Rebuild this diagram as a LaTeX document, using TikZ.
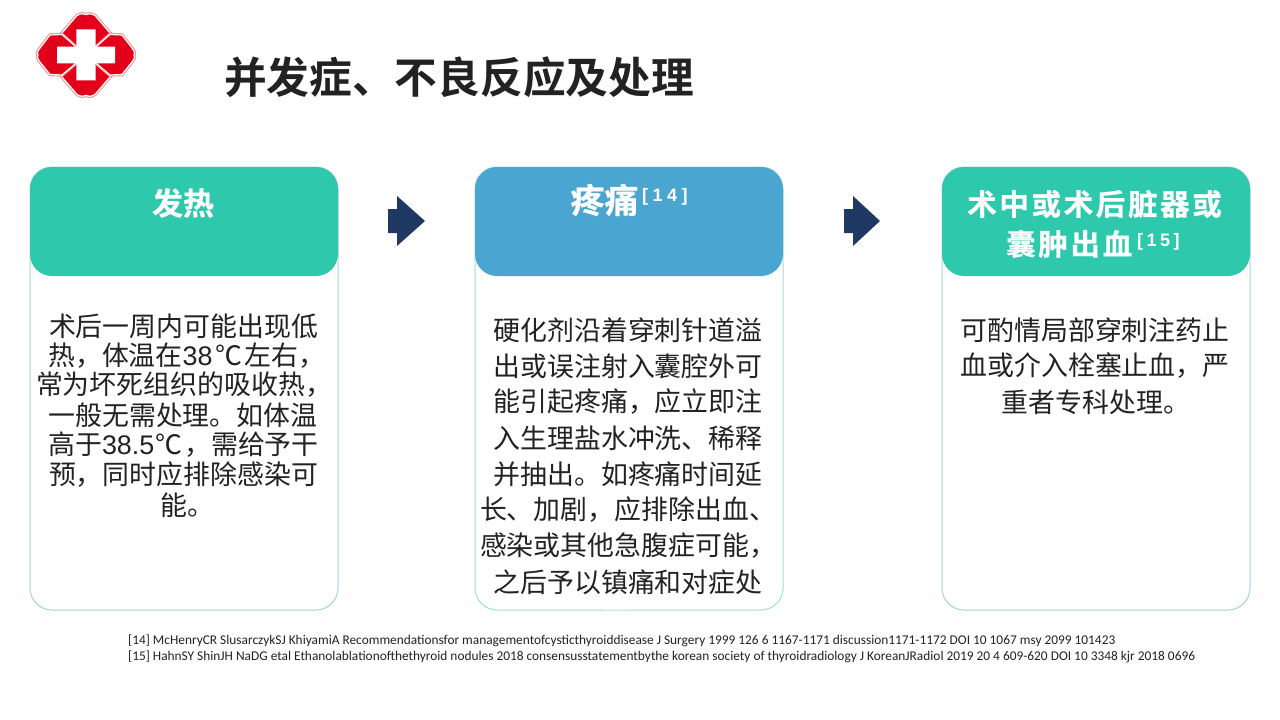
\documentclass[tikz,border=0pt]{standalone}
\usepackage{fontspec}
\setmainfont{Liberation Sans}
\newfontfamily\cjk{Noto Sans CJK SC}
\newfontfamily\cjkb[FakeBold=0.6]{Noto Sans CJK SC Bold}
\newfontfamily\cjkbs[FakeBold=0.6,LetterSpace=9]{Noto Sans CJK SC Bold}
\newfontfamily\latinr{Liberation Sans}
\newfontfamily\reffont{Carlito}
\definecolor{teal1}{HTML}{2EC8AC}
\definecolor{blue1}{HTML}{4AA5D0}
\definecolor{navy1}{HTML}{1F3864}
\definecolor{edge1}{HTML}{A3D5E3}
\definecolor{edge2}{HTML}{A0DFD8}
\definecolor{ink}{HTML}{222222}
\definecolor{red1}{HTML}{E2001A}
\definecolor{pink1}{HTML}{F29A9A}
\tikzset{
  x=1pt,y=-1pt,
  bodyline/.style={inner sep=0pt,text=ink,font=\cjk\fontsize{26.9}{30}\selectfont,anchor=center},
  headtext/.style={inner sep=0pt,text=white,anchor=center},
  reftext/.style={inner sep=0pt,text=ink,font=\reffont\fontsize{13.36}{15}\selectfont,anchor=west},
  cardbox/.style={draw=#1,line width=1pt,fill=white,rounded corners=22pt},
  arrowshape/.style={fill=navy1,draw=none},
  petal/.style={fill=red1,draw=white,line width=1.2pt,preaction={draw=pink1,line width=3.4pt},line join=round},
}
\newcommand{\dg}[1]{{\latinr #1}}
\newcommand{\supref}[3]{{\normalfont\bfseries\fontsize{18}{18}\selectfont [\hspace{#3}#1\hspace{#3}#2\hspace{#3}]}}
\begin{document}
\begin{tikzpicture}
\useasboundingbox (0,0) rectangle (1280,720);
\fill[white] (0,0) rectangle (1280,720);
% logo
\draw[petal] (62,33) -- (77,15.5) .. controls (81,13.5) and (84,13) .. (86,14.5) .. controls (88,13) and (91,13.5) .. (95,15.5) -- (110,33) -- (108,36) -- (96,47) -- (76,47) -- (64,36) -- cycle;
\draw[petal] (62,77) -- (77,94.5) .. controls (81,96.5) and (84,97) .. (86,95.5) .. controls (88,97) and (91,96.5) .. (95,94.5) -- (110,77) -- (108,74) -- (96,63) -- (76,63) -- (64,74) -- cycle;
\draw[petal] (62,34.5) -- (50,35) -- (40,48) .. controls (37,52) and (37,54) .. (38,55) .. controls (37,56) and (37,58) .. (40,62) -- (50,74.5) -- (62,75) -- (75,64) -- (75,46) -- cycle;
\draw[petal] (110,34.5) -- (122,35) -- (132,48) .. controls (135,52) and (135,54) .. (134,55) .. controls (135,56) and (135,58) .. (132,62) -- (122,74.5) -- (110,75) -- (97,64) -- (97,46) -- cycle;
\fill[white] (76.3,29.3) -- (95.7,29.3) -- (95.7,46.7) -- (115,46.7) -- (115,63.3) -- (95.7,63.3) -- (95.7,80.3) -- (76.3,80.3) -- (76.3,63.3) -- (57,63.3) -- (57,46.7) -- (76.3,46.7) -- cycle;
% title
\node[inner sep=0pt,text=ink,font=\fontspec{Noto Sans CJK SC Bold}\fontsize{42.7}{46}\selectfont] (title) at (459,77) {并发症、不良反应及处理};
% cards
\draw[cardbox=edge1] (30,167) rectangle (338,610);
\draw[cardbox=edge2] (475,167) rectangle (783,610);
\draw[cardbox=edge1] (942,167) rectangle (1250,610);
\fill[teal1,rounded corners=22pt] (30,167) rectangle (338,276);
\fill[blue1,rounded corners=22pt] (475,167) rectangle (783,276);
\fill[teal1,rounded corners=22pt] (942,167) rectangle (1250,276);
\draw[white,line width=1pt,dash pattern=on 1.5pt off 2pt] (606,609.5) -- (626,609.5);
% arrows
\fill[arrowshape] (388,209) -- (397,209) -- (397,196) -- (425,221) -- (397,246) -- (397,233) -- (388,233) -- cycle;
\fill[arrowshape] (844,209) -- (853,209) -- (853,196) -- (880,221) -- (853,246) -- (853,233) -- (844,233) -- cycle;
% headings
\node[headtext,font=\cjkb\fontsize{31}{34}\selectfont] (h1) at (183,203) {发热};
\node[headtext,font=\cjkb\fontsize{34}{36}\selectfont] (h2) at (604.5,200) {疼痛};
\node[headtext,anchor=west] (s2) at (642,197) {\supref{1}{4}{4.5pt}};
\node[headtext,font=\cjkbs\fontsize{29.5}{34}\selectfont] (h3a) at (1094.5,204) {术中或术后脏器或};
\node[headtext,font=\cjkbs\fontsize{29.5}{34}\selectfont,anchor=west] (h3b) at (1006,244) {囊肿出血};
\node[headtext,anchor=west] (s3) at (1137,242) {\supref{1}{5}{3.5pt}};
% left text
\node[bodyline] (l1) at (183.5,326) {术后一周内可能出现低};
\node[bodyline,anchor=west] (l2) at (48,356) {热，体温在\dg{38}\hspace{2.5pt}℃\hspace{2.5pt}左右，};
\node[bodyline] (l3) at (184,385) {常为坏死组织的吸收热，};
\node[bodyline] (l4) at (183,415) {一般无需处理。如体温};
\node[bodyline,anchor=west] (l5) at (48,445) {高于\dg{38.5}\hspace{1.5pt}℃\hspace{1.5pt}，需给予干};
\node[bodyline] (l6) at (183.5,475) {预，同时应排除感染可};
\node[bodyline] (l7) at (187,505) {能。};
% middle text
\node[bodyline] (m1) at (628,330) {硬化剂沿着穿刺针道溢};
\node[bodyline] (m2) at (628,366) {出或误注射入囊腔外可};
\node[bodyline] (m3) at (628,402) {能引起疼痛，应立即注};
\node[bodyline] (m4) at (628,438) {入生理盐水冲洗、稀释};
\node[bodyline] (m5) at (628,474) {并抽出。如疼痛时间延};
\node[bodyline] (m6) at (628,510) {长、加剧，应排除出血、};
\node[bodyline] (m7) at (628,546) {感染或其他急腹症可能，};
\node[bodyline] (m8) at (628,582) {之后予以镇痛和对症处};
% right text
\node[bodyline] (r1) at (1095,330) {可酌情局部穿刺注药止};
\node[bodyline] (r2) at (1095,366) {血或介入栓塞止血，严};
\node[bodyline] (r3) at (1096,402) {重者专科处理。};
% refs
\node[reftext] (ref1) at (128,641) {[14] McHenryCR SlusarczykSJ KhiyamiA Recommendationsfor managementofcysticthyroiddisease J Surgery 1999 126 6 1167-1171 discussion1171-1172 DOI 10 1067 msy 2099 101423};
\node[reftext] (ref2) at (128,657) {[15] HahnSY ShinJH NaDG etal Ethanolablationofthethyroid nodules 2018 consensusstatementbythe korean society of thyroidradiology J KoreanJRadiol 2019 20 4 609-620 DOI 10 3348 kjr 2018 0696};
\end{tikzpicture}
\end{document}
